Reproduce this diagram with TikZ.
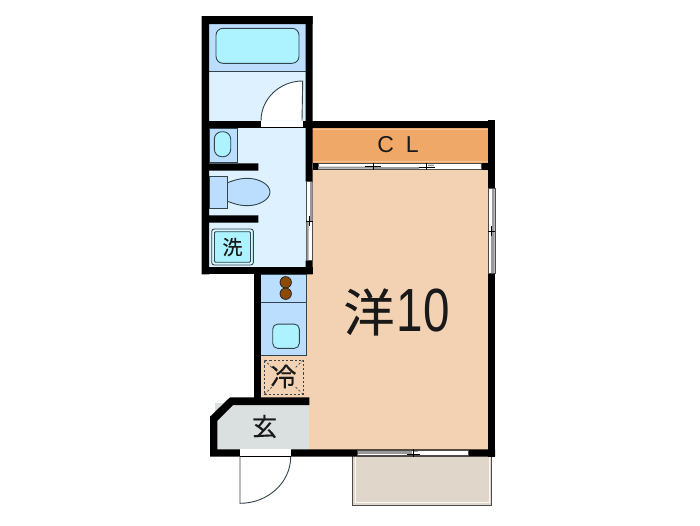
\documentclass[tikz,border=0pt]{standalone}
\usepackage{fontspec}
\setmainfont{Liberation Sans}
\newfontfamily\cjkfont[FakeBold=0.3]{Noto Sans CJK JP}
\definecolor{roomlt}{HTML}{DDF1FF}
\definecolor{roomblue}{HTML}{BBDEFF}
\definecolor{fixcyan}{HTML}{ADF2FF}
\definecolor{clo}{HTML}{F0A868}
\definecolor{mainrm}{HTML}{F2D2B2}
\definecolor{genkan}{HTML}{DADFE0}
\definecolor{balc}{HTML}{E0D6CA}
\definecolor{fixline}{HTML}{33444C}
\definecolor{brownb}{HTML}{8B4A06}
\tikzset{
  wall/.style={fill=black,draw=none},
  fixt/.style={draw=fixline,line width=0.9pt,fill=fixcyan,rounded corners=#1},
  fixt/.default=5pt,
  thin line/.style={draw=fixline,line width=0.8pt},
  opening/.style={fill=white,draw=none},
  pane/.style={fill=black!40,draw=none},
  label/.style={inner sep=0pt,text=black!90},
}
\begin{document}
\begin{tikzpicture}[x=1pt,y=-1pt]
\useasboundingbox (0,0) rectangle (700,525);
\fill[white] (0,0) rectangle (700,525);
% floors
\fill[balc] (352.7,456) rectangle (491.7,505);
\draw[black!70,line width=1pt] (352.7,456) -- (352.7,505) -- (491.7,505) -- (491.7,456);
\draw[white!85!balc,line width=0.6pt] (355.5,456) -- (355.5,502.5) -- (489,502.5) -- (489,456);
\fill[mainrm] (306.7,168) rectangle (489,450);
\fill[mainrm] (261,355) rectangle (307,398);
\fill[roomlt] (208,72) rectangle (306,268);
\fill[roomblue] (208,23) rectangle (306,71.7);
\fill[genkan] (215,403) -- (309.3,403) -- (309.3,451) -- (215,451) -- cycle;
\fill[roomblue] (261,273) rectangle (306.7,355.7);
\fill[clo] (312,127) rectangle (488,162.7);
\draw[mainrm!70!clo,line width=0.6pt] (313,129) -- (487.5,129) (313,161) -- (487.5,161);
% fixtures upper
\draw[thin line] (208,71.7) -- (306,71.7);
\node[fixt=7pt,minimum width=83pt,minimum height=35pt,inner sep=0pt] (tub) at (257.5,45.8) {};
\node[draw=fixline,line width=0.8pt,fill=roomblue,minimum width=27.7pt,minimum height=34pt,inner sep=0pt,anchor=north west] (basinbox) at (209,127.7) {};
\node[fixt=7.5pt,minimum width=16.4pt,minimum height=25pt,inner sep=0pt] (basin) at (222.5,144.2) {};
% toilet
\filldraw[fill=roomblue,draw=fixline,line width=0.9pt] (226.7,183) .. controls (236,179.5) and (241,178.3) .. (247,178.3) .. controls (260,178.3) and (270,185) .. (270,192) .. controls (270,199) and (260,205.7) .. (247,205.7) .. controls (241,205.7) and (236,204.5) .. (226.7,201) -- cycle;
\node[draw=fixline,line width=0.9pt,fill=roomblue,minimum width=18pt,minimum height=32.6pt,inner sep=0pt,anchor=north west] (tank) at (208.7,175.7) {};
% washer
\node[draw=fixline,line width=0.9pt,fill=fixcyan!55!white,rounded corners=2.5pt,minimum width=41.6pt,minimum height=36pt,inner sep=0pt] (washer) at (232.5,247) {};
\node[draw=fixline,line width=0.9pt,fill=fixcyan,minimum width=36pt,minimum height=30.5pt,rounded corners=1pt,inner sep=0pt] (washerin) at (232.5,247) {};
\node[label,font=\cjkfont\fontsize{20}{20}\selectfont] (wash) at (232.5,247) {洗};
% kitchen
\draw[thin line] (261.3,274) -- (306.7,274) -- (306.7,355.7) -- (261.3,355.7);
\draw[fixline,line width=1.3pt] (261.3,302.7) -- (306.7,302.7);
\node[circle,draw=black!85,line width=0.8pt,fill=brownb,minimum size=11.4pt,inner sep=0pt] (burnerA) at (285.7,282.3) {};
\node[circle,draw=black!85,line width=0.8pt,fill=brownb,minimum size=11.4pt,inner sep=0pt] (burnerB) at (285.7,293.7) {};
\node[fixt=5pt,minimum width=26.6pt,minimum height=24.3pt,inner sep=0pt] (sink) at (286,336.2) {};
% fridge
\node[draw=fixline,dashed,dash pattern=on 2.2pt off 2pt,line width=0.8pt,minimum width=39pt,minimum height=34.3pt,inner sep=0pt] (fridge) at (283.8,377.2) {};
\draw[fixline,dashed,dash pattern=on 2.2pt off 2pt,line width=0.7pt] (264.3,360) -- (272,367.5) (303.3,360) -- (295.5,367.5) (264.3,394.3) -- (272,387) (303.3,394.3) -- (295.5,387);
\node[label,font=\cjkfont\fontsize{26}{26}\selectfont] (rei) at (283.5,376.5) {冷};
% walls
\fill[wall] (201.7,16) rectangle (312.7,24) (201.7,16) rectangle (209,274.3);
\fill[wall] (305.7,16) rectangle (312.7,181.7) (305.7,260.7) rectangle (312.7,274.3);
\fill[wall] (201.7,267.3) rectangle (312.7,274.3);
\fill[wall] (209,120.7) rectangle (495,127.5);
\fill[wall] (487.7,120) rectangle (495,456.7);
\fill[wall] (312.7,162.7) rectangle (487.7,170);
\fill[wall] (209,163.3) rectangle (258.3,170.7) (209,215.3) rectangle (258.3,222.7);
\fill[wall] (254,274) rectangle (261.3,400);
\fill[wall] (230,397.3) -- (309.3,397.3) -- (309.3,405) -- (233,405) -- (217.3,420.7) -- (217.3,449.3) -- (495,449.3) -- (495,456.7) -- (210,456.7) -- (210,416.7) -- cycle;
% bath door
\fill[opening] (261,120.7) rectangle (302.7,127.3);
\filldraw[fill=white,draw=fixline,line width=0.9pt] (261,120.7) arc[start angle=180,end angle=90,x radius=41.7pt,y radius=39.7pt] -- (302,120.7);
% entrance door
\fill[opening] (240,449.3) rectangle (290.7,456.7);
\filldraw[fill=white,draw=fixline,line width=0.9pt] (290.7,456.7) arc[start angle=0,end angle=-90,x radius=50.7pt,y radius=46.6pt] -- (240,456.7);
\draw[black,line width=0.7pt] (240,456.7) -- (290.7,456.7);
% closet sliding doors
\fill[opening] (318,163.8) rectangle (481.7,169.5);
\draw[black!70,line width=0.7pt] (318,163.8) rectangle (481.7,169.5);
\fill[pane] (318,166.5) rectangle (372,168.5) (372,167) rectangle (419,169) (428,164.5) rectangle (434,166);
\draw[black,line width=0.7pt] (373,162.7) -- (373,170) (365,166.7) -- (381,166.7) (426,162.7) -- (426,170) (419,167.5) -- (435,167.5);
% left window
\fill[opening] (306.5,181.7) rectangle (312.7,260.7);
\draw[black!70,line width=0.7pt] (306.5,181.7) rectangle (312.7,260.7);
\fill[pane] (310,182) rectangle (312.5,221) (306.7,221) rectangle (308.5,260);
\draw[black,line width=0.7pt] (305.7,221) -- (313,221) (309.5,216) -- (309.5,226);
% right window
\fill[opening] (488,188.3) rectangle (495,273.3);
\draw[black!70,line width=0.7pt] (488,188.3) rectangle (495,273.3);
\fill[pane] (492,189) rectangle (494.5,231) (491,231) rectangle (494.5,272.8);
\draw[black,line width=0.7pt] (487.7,231) -- (495,231) (491.5,226) -- (491.5,236);
% bottom window
\fill[opening] (357.7,450.5) rectangle (468.3,455.5);
\draw[black!70,line width=0.7pt] (357.7,450.5) rectangle (468.3,455.5);
\fill[pane] (358,450.8) rectangle (412,453.5);
\fill[pane] (413,450.5) rectangle (418,452);
\draw[black,line width=0.7pt] (413,449.3) -- (413,456.7) (407,454.5) -- (420,454.5);
% labels
\node[label,font=\cjkfont\fontsize{25}{25}\selectfont] (gen) at (264.5,426.5) {玄};
\node[label,font=\fontsize{23}{23}\selectfont] (cl) at (398,144.7) {C\hspace{12pt}L};
\node[label,font=\cjkfont\fontsize{51}{51}\selectfont] (yo) at (369,312) {洋};
\node[label,font=\fontsize{61}{61}\selectfont,xscale=0.78] (num) at (423,310.5) {10};
\end{tikzpicture}
\end{document}
